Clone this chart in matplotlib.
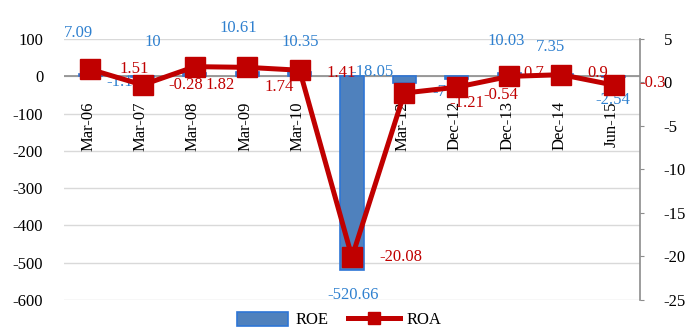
import numpy as np
import matplotlib.pyplot as plt
from matplotlib.patches import Patch
from matplotlib.lines import Line2D

plt.rcParams['font.family'] = ['Liberation Serif', 'DejaVu Serif']
plt.rcParams['axes.unicode_minus'] = False

# Data
periods = ['Mar-06', 'Mar-07', 'Mar-08', 'Mar-09', 'Mar-10', 'Mar-11',
           'Mar-12', 'Dec-12', 'Dec-13', 'Dec-14', 'Jun-15']
roe = [7.09, -1.11, 10, 10.61, 10.35, -520.66, -18.05, -7.17, 10.03, 7.35, -2.54]
roa = [1.51, -0.28, 1.82, 1.74, 1.41, -20.08, -1.21, -0.54, 0.7, 0.9, -0.3]

# label offsets in pixels (dx right, dy up), as placed in the original chart
roe_off = [(-12, 41), (-19, -5), (-42, 31), (-9, 44), (1, 30), (1, -25),
           (-32, 11), (-7, -13), (-3, 32), (-11, 27), (-1, -23)]
roa_off = [(44, 0), (43, 0), (25, -18), (32, -20), (42, -3), (49, 0),
           (62, -10), (44, -8), (25, 3), (36, 2), (39, 2)]

blue_fill = '#4F81BD'
blue_edge = '#2E75D6'
blue_txt = '#2F80CF'
red = '#C00000'
fs = 12

fig = plt.figure(figsize=(6.85, 3.28), dpi=100)
ax = fig.add_axes([0.0934, 0.0854, 0.8409, 0.7957])
ax2 = ax.twinx()

x = np.arange(len(periods))
ax.bar(x, roe, width=0.44, color=blue_fill, edgecolor=blue_edge, linewidth=1.2, zorder=2)
ax.set_xlim(-0.5, len(periods) - 0.5)
ax.set_ylim(-600, 100)
ax.set_yticks(np.arange(-600, 101, 100))
ax.yaxis.grid(True, color='#D9D9D9', linewidth=1)
ax.set_axisbelow(True)
ax.axhline(0, color='#8C8C8C', linewidth=1.2, zorder=1.5)
ax.set_xticks([])
for s in ax.spines.values():
    s.set_visible(False)
ax.tick_params(axis='y', length=0, pad=15, labelsize=fs)

# category labels next to the zero line
for i, p in enumerate(periods):
    ax.annotate(p, xy=(i, 0), xytext=(-2, -25), textcoords='offset pixels',
                rotation=90, ha='center', va='top', fontsize=fs, zorder=1)

for i, v in enumerate(roe):
    ax.annotate(f'{v:g}', xy=(i, v), xytext=roe_off[i], textcoords='offset pixels',
                ha='center', va='center', color=blue_txt, fontsize=fs)

ax2.plot(x, roa, color=red, linewidth=3.6, marker='s', markersize=14, zorder=3)
ax2.set_ylim(-25, 5)
ax2.set_yticks(np.arange(-25, 6, 5))
for s in ['top', 'left', 'bottom']:
    ax2.spines[s].set_visible(False)
ax2.spines['right'].set_color('#8C8C8C')
ax2.spines['right'].set_linewidth(1.2)
ax2.tick_params(axis='y', direction='out', length=3, color='#8C8C8C', pad=14, labelsize=fs)

for i, v in enumerate(roa):
    ax2.annotate(f'{v:g}', xy=(i, v), xytext=roa_off[i], textcoords='offset pixels',
                 ha='center', va='center', color=red, fontsize=fs)

handles = [Patch(facecolor=blue_fill, edgecolor=blue_edge, linewidth=1.2),
           Line2D([], [], color=red, linewidth=3.6, marker='s', markersize=9)]
fig.legend(handles, ['ROE', 'ROA'], loc='center', bbox_to_anchor=(0.495, 1 - 320 / 328),
           ncol=2, frameon=False, fontsize=fs, handlelength=3.1, handleheight=0.9,
           handletextpad=0.4, columnspacing=1.2, borderpad=0)

fig.savefig('out.png', dpi=100)
